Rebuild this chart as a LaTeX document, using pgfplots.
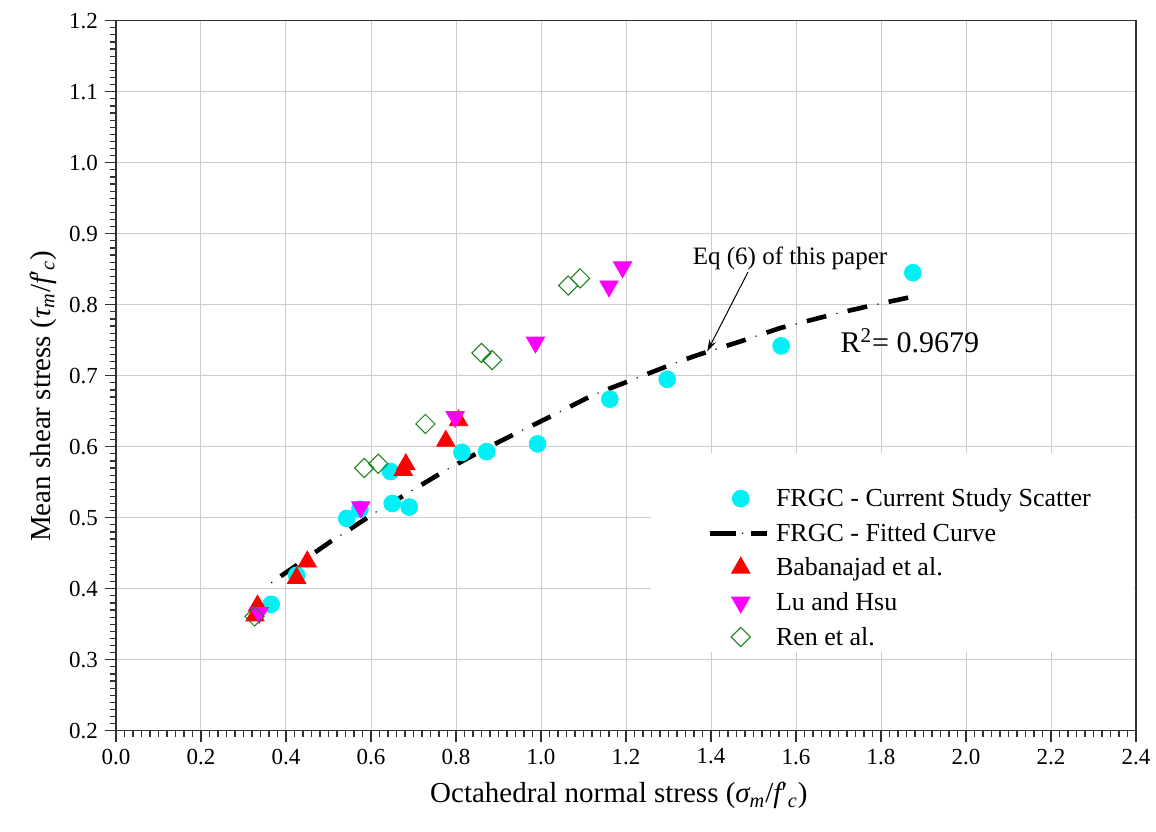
\documentclass[border=0pt]{standalone}
\usepackage{fontspec}
\setmainfont{Liberation Serif}
\usepackage{pgfplots}
\usepackage{pgfplotstable}
\pgfplotsset{compat=1.18}
\usetikzlibrary{arrows.meta}
\definecolor{gridc}{RGB}{205,205,205}
\definecolor{axc}{RGB}{50,50,50}
\definecolor{rengreen}{RGB}{20,130,20}
\definecolor{mycyan}{RGB}{0,240,245}
\definecolor{myred}{RGB}{255,0,0}
\definecolor{mymag}{RGB}{255,0,255}

\pgfplotstableread{
x y
0.365 0.378
0.425 0.419
0.543 0.499
0.574 0.512
0.646 0.565
0.650 0.520
0.690 0.515
0.814 0.592
0.872 0.593
0.992 0.604
1.162 0.667
1.297 0.695
1.565 0.742
1.875 0.845
}\frgc

\pgfplotstableread{
x y
0.345 0.400
0.386 0.417
0.425 0.433
0.504 0.466
0.541 0.480
0.609 0.507
0.649 0.521
0.776 0.567
0.816 0.580
0.872 0.598
0.955 0.623
0.994 0.634
1.123 0.673
1.205 0.692
1.334 0.722
1.378 0.731
1.468 0.748
1.562 0.767
1.691 0.787
1.786 0.800
1.880 0.812
}\fitc

\pgfplotstableread{
x y
0.327 0.362
0.333 0.376
0.425 0.415
0.450 0.438
0.676 0.567
0.682 0.575
0.776 0.608
0.806 0.637
}\baba

\pgfplotstableread{
x y
0.337 0.366
0.576 0.515
0.798 0.642
0.987 0.747
1.160 0.826
1.192 0.853
}\luhsu

\pgfplotstableread{
x y
0.326 0.361
0.584 0.570
0.617 0.576
0.728 0.632
0.860 0.732
0.885 0.722
1.064 0.827
1.092 0.837
}\ren

\begin{document}
\begin{tikzpicture}
\begin{axis}[
  scale only axis, width=510pt, height=355pt,
  xmin=0, xmax=2.4, ymin=0.2, ymax=1.2,
  xtick={0,0.2,0.4,0.6,0.8,1.0,1.2,1.4,1.6,1.8,2.0,2.2,2.4},
  ytick={0.2,0.3,0.4,0.5,0.6,0.7,0.8,0.9,1.0,1.1,1.2},
  minor x tick num=9, minor y tick num=9,
  tick align=outside, tick pos=left,
  major tick length=5.5pt, minor tick length=3pt,
  grid=major, major grid style={gridc, line width=0.5pt},
  axis line style={axc, line width=0.75pt},
  every tick/.style={axc, line width=0.6pt},
  tick label style={font=\fontsize{11.5}{13}\selectfont},
  /pgf/number format/assume math mode=true,
  xticklabel style={/pgf/number format/.cd, fixed, fixed zerofill, precision=1},
  yticklabel style={/pgf/number format/.cd, fixed, fixed zerofill, precision=1},
  xlabel={Octahedral normal stress ({\itshape σ}\textsubscript{\itshape m}/{\itshape f}′\textsubscript{\itshape c})},
  ylabel={Mean shear stress ({\itshape τ}\textsubscript{\itshape m}/{\itshape f}′\textsubscript{\itshape c})},
  xlabel style={at={(axis description cs:0.493,0)}, anchor=base, yshift=-36pt, font=\fontsize{14.5}{17}\selectfont},
  ylabel style={at={(axis description cs:-0.0647,0.471)}, anchor=base, font=\fontsize{14.5}{17}\selectfont},
  legend cell align=left,
  legend style={draw=none, fill=none, inner sep=0pt,
    at={(axis description cs:0.5794,0.350)}, anchor=north west,
    font=\fontsize{13}{15}\selectfont,
    nodes={inner sep=1pt, text height=11pt, text depth=3pt},
    row sep=1.3pt, column sep=2.5pt},
]
\coordinate (sw) at (rel axis cs:0,0);
\coordinate (ne) at (rel axis cs:1,1);
\fill[white] (axis cs:1.259,0.311) rectangle (axis cs:2.396,0.591);

\addplot[only marks, mark=*, mark size=4.2pt, mark options={draw=mycyan, fill=mycyan}] table {\frgc};
\addlegendentry{FRGC - Current Study Scatter}

\addplot[black, mark=none, line width=2.3pt, dash pattern=on 10pt off 11pt, dash phase=10pt,
  legend image code/.code={
    \draw[solid, black, line width=2.3pt] (-7pt,0pt) -- (6pt,0pt) (13.5pt,0pt) -- (21.5pt,0pt);
    \path[fill=black, draw=none] (9.5pt,0pt) circle (0.4pt);
  }] table {\fitc};
\addlegendentry{FRGC - Fitted Curve}
\addplot[forget plot, black, mark=none, line width=0.6pt, dash pattern=on 0.6pt off 20.4pt, dash phase=15.8pt] table {\fitc};

\addplot[only marks, mark=triangle*, mark size=5.3pt, mark options={draw=myred, fill=myred}] table {\baba};
\addlegendentry{Babanajad et al.}

\addplot[only marks, mark=triangle*, mark size=5.3pt, mark options={rotate=180, draw=mymag, fill=mymag}] table {\luhsu};
\addlegendentry{Lu and Hsu}

\addplot[only marks, mark=square, mark size=3.4pt, mark options={rotate=45, draw=rengreen, line width=0.5pt}] table {\ren};
\addlegendentry{Ren et al.}

\draw[black, line width=0.5pt, -{Stealth[length=6pt, width=3.5pt]}] (axis cs:1.487,0.846) -- (axis cs:1.391,0.734);
\node[anchor=base, font=\fontsize{12.5}{14}\selectfont, inner sep=0pt] at (axis cs:1.586,0.856) {Eq (6) of this paper};
\node[anchor=base, font=\fontsize{15}{17}\selectfont, inner sep=0pt] at (axis cs:1.868,0.732) {R\textsuperscript{2}= 0.9679};
\end{axis}
\pgfresetboundingbox
\path ([shift={(-58pt,-50.15pt)}]sw) rectangle ([shift={(10pt,10.35pt)}]ne);
\end{tikzpicture}
\end{document}
